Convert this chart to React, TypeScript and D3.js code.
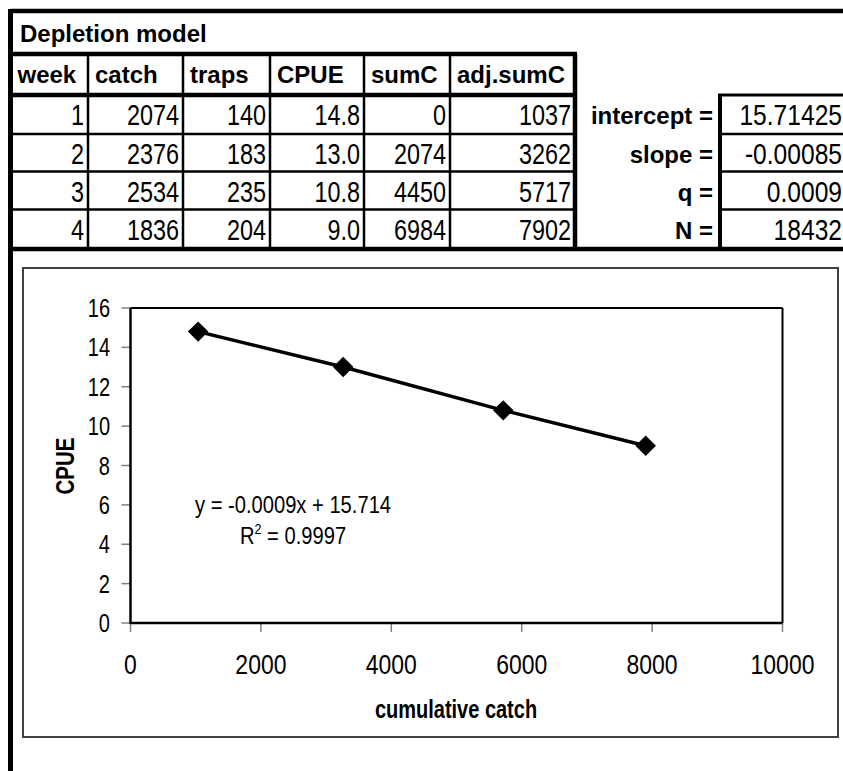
import React from 'react';
import * as d3 from 'd3';

const weeks = [1, 2, 3, 4];
const catches = [2074, 2376, 2534, 1836];
const traps = [140, 183, 235, 204];
const cpue = [14.8, 13.0, 10.8, 9.0];
const sumC = [0, 2074, 4450, 6984];
const adjSumC = [1037, 3262, 5717, 7902];

const headers = ['week', 'catch', 'traps', 'CPUE', 'sumC', 'adj.sumC'];
const statLabels = ['intercept =', 'slope =', 'q =', 'N ='];
const statValues = ['15.71425', '-0.00085', '0.0009', '18432'];

const xTicks = [0, 2000, 4000, 6000, 8000, 10000];
const yTicks = [0, 2, 4, 6, 8, 10, 12, 14, 16];
const equationText = 'y = -0.0009x + 15.714';
const r2Value = '0.9997';

const FONT = "'Liberation Sans', Arial, sans-serif";

// condensed text: Excel's narrow, tall glyphs approximated with a horizontal squeeze
const T = ({
  x,
  y,
  size,
  sx = 1,
  anchor = 'start',
  bold = false,
  rotate = 0,
  children,
}: {
  x: number;
  y: number;
  size: number;
  sx?: number;
  anchor?: string;
  bold?: boolean;
  rotate?: number;
  children: React.ReactNode;
}) => (
  <text
    transform={`translate(${x},${y}) rotate(${rotate}) scale(${sx},1)`}
    textAnchor={anchor}
    fontFamily={FONT}
    fontWeight={bold ? 'bold' : 'normal'}
    fontSize={size}
    fill="#000"
  >
    {children}
  </text>
);

const App = () => {
  const width = 843;
  const height = 771;

  // table layout
  const colEdges = [10.5, 88, 183, 270, 364, 450, 575];
  const rowEdges = [54, 95, 134, 171.5, 209.5, 249];
  const fmt1 = d3.format('.1f');
  const rows = weeks.map((w, i) => [
    String(w),
    String(catches[i]),
    String(traps[i]),
    fmt1(cpue[i]),
    String(sumC[i]),
    String(adjSumC[i]),
  ]);

  // chart scales
  const x = d3.scaleLinear().domain([0, 10000]).range([130.5, 782.5]);
  const y = d3.scaleLinear().domain([0, 16]).range([623, 308]);
  const pts = adjSumC.map((v, i) => [v, cpue[i]] as [number, number]);
  const line = d3
    .line<[number, number]>()
    .x((d) => x(d[0]))
    .y((d) => y(d[1]));
  const diamond = d3.symbol(d3.symbolSquare, 210)() as string;

  return (
    <>
      <style>{'body{margin:0}'}</style>
      <svg width={width} height={height} style={{ display: 'block', background: '#fff' }}>
        {/* outer frame */}
        <line x1={10.5} x2={843} y1={11} y2={11} stroke="#000" strokeWidth={4.5} />
        <line x1={10.5} x2={10.5} y1={9} y2={771} stroke="#000" strokeWidth={5} />
        <T x={20} y={42} size={24} bold>
          Depletion model
        </T>

        {/* data table */}
        <line x1={8} x2={577} y1={rowEdges[0]} y2={rowEdges[0]} stroke="#000" strokeWidth={4.5} />
        <line x1={8} x2={577} y1={rowEdges[1]} y2={rowEdges[1]} stroke="#000" strokeWidth={4.5} />
        {rowEdges.slice(2, 5).map((ry) => (
          <line key={ry} x1={8} x2={577} y1={ry} y2={ry} stroke="#000" strokeWidth={2.5} />
        ))}
        <line x1={8} x2={843} y1={rowEdges[5]} y2={rowEdges[5]} stroke="#000" strokeWidth={4.5} />
        {colEdges.slice(1).map((cx, i) => (
          <line
            key={cx}
            x1={cx}
            x2={cx}
            y1={rowEdges[0]}
            y2={rowEdges[5]}
            stroke="#000"
            strokeWidth={i === colEdges.length - 2 ? 4.5 : 2.5}
          />
        ))}
        {headers.map((h, i) => (
          <T key={h} x={colEdges[i] + 7} y={83} size={24} bold>
            {h}
          </T>
        ))}
        {rows.map((r, ri) =>
          r.map((v, ci) => (
            <T key={ri + '-' + ci} x={colEdges[ci + 1] - 4} y={rowEdges[ri + 1] + 30} size={30} sx={0.78} anchor="end">
              {v}
            </T>
          ))
        )}

        {/* regression results */}
        <line x1={720} x2={720} y1={rowEdges[1] - 1} y2={rowEdges[5]} stroke="#000" strokeWidth={4} />
        <line x1={718} x2={843} y1={rowEdges[1]} y2={rowEdges[1]} stroke="#000" strokeWidth={3} />
        {rowEdges.slice(2, 5).map((ry) => (
          <line key={'s' + ry} x1={720} x2={843} y1={ry} y2={ry} stroke="#000" strokeWidth={2.5} />
        ))}
        {statLabels.map((l, i) => (
          <T key={l} x={713} y={rowEdges[i + 1] + 29} size={24} bold anchor="end">
            {l}
          </T>
        ))}
        {statValues.map((v, i) => (
          <T key={v} x={842} y={rowEdges[i + 1] + 30} size={30} sx={0.82} anchor="end">
            {v}
          </T>
        ))}

        {/* chart frame */}
        <rect x={23} y={268} width={815} height={469} fill="#fff" stroke="#404040" strokeWidth={2} />

        {/* plot area */}
        <line x1={x(0)} x2={x(10000)} y1={y(16)} y2={y(16)} stroke="#000" strokeWidth={2} />
        <line x1={x(10000)} x2={x(10000)} y1={y(16)} y2={y(0)} stroke="#000" strokeWidth={2} />
        {yTicks.map((t) => (
          <g key={'y' + t}>
            <line x1={x(0) - 9} x2={x(0)} y1={y(t)} y2={y(t)} stroke="#808080" strokeWidth={1.5} />
            <T x={110} y={y(t) + 9} size={25} sx={0.8} anchor="end">
              {t}
            </T>
          </g>
        ))}
        {xTicks.map((t) => (
          <g key={'x' + t}>
            <line x1={x(t)} x2={x(t)} y1={y(0)} y2={y(0) + 9} stroke="#808080" strokeWidth={1.5} />
            <T x={x(t)} y={674} size={28} sx={0.82} anchor="middle">
              {t}
            </T>
          </g>
        ))}
        <line x1={x(0)} x2={x(0)} y1={y(16)} y2={y(0) + 1} stroke="#000" strokeWidth={2.5} />
        <line x1={x(0)} x2={x(10000)} y1={y(0)} y2={y(0)} stroke="#000" strokeWidth={2.5} />

        <path d={line(pts) as string} fill="none" stroke="#000" strokeWidth={3.5} />
        {pts.map((p, i) => (
          <path
            key={'m' + i}
            d={diamond}
            transform={`translate(${x(p[0])},${y(p[1])}) rotate(45)`}
            fill="#000"
          />
        ))}

        <T x={293} y={513} size={24} sx={0.84} anchor="middle">
          {equationText}
        </T>
        <T x={293} y={544} size={24} sx={0.84} anchor="middle">
          R<tspan fontSize={15} dy={-10}>2</tspan>
          <tspan dy={10}>{' = ' + r2Value}</tspan>
        </T>

        <T x={74} y={466} size={26} sx={0.79} bold rotate={-90} anchor="middle">
          CPUE
        </T>
        <T x={456} y={718} size={25} sx={0.8} bold anchor="middle">
          cumulative catch
        </T>
      </svg>
    </>
  );
};

export default App;
